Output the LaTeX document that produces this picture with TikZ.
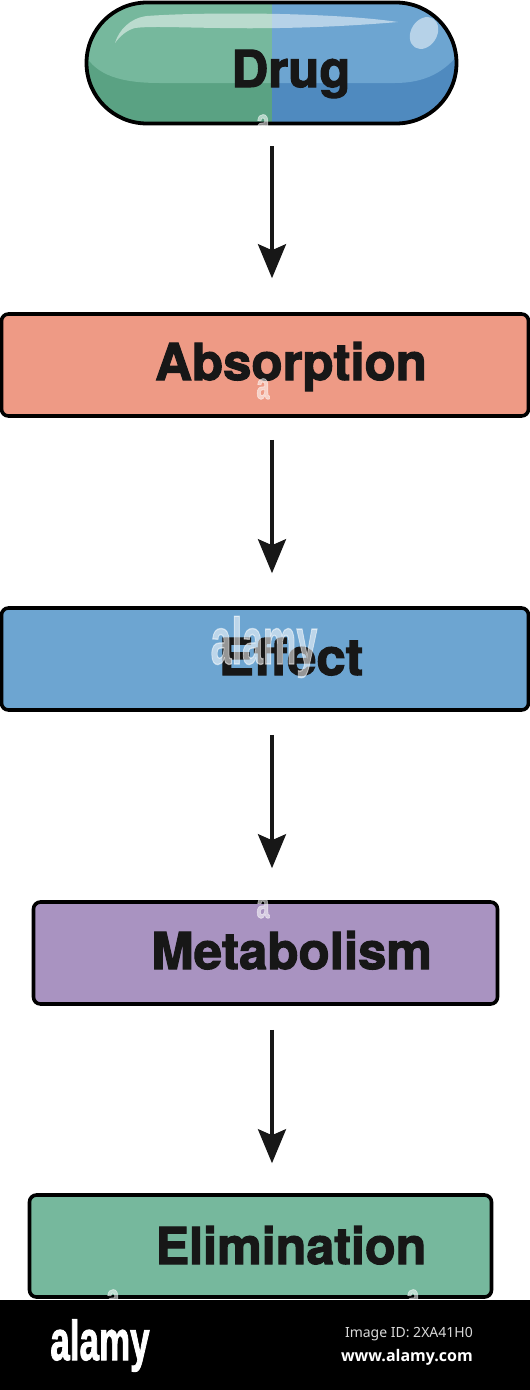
\documentclass[tikz,border=0pt]{standalone}
\usepackage{fontspec}
\setmainfont{TeX Gyre Heros}[BoldFeatures={FakeBold=2.2}]
\newfontfamily\notofont{Noto Sans}
\newfontfamily\sitefont{Open Sans}
\newfontfamily\logofont{Liberation Sans}[BoldFeatures={FakeBold=2}]
\usetikzlibrary{arrows.meta}
\definecolor{ink}{HTML}{171717}
\definecolor{boxred}{HTML}{EE9A85}
\definecolor{boxblue}{HTML}{6DA5D1}
\definecolor{boxpurple}{HTML}{A993C1}
\definecolor{boxgreen}{HTML}{76B89D}
\definecolor{pillgreendark}{HTML}{5AA283}
\definecolor{pillbluedark}{HTML}{4F8ABF}
\tikzset{
  stagebox/.style={draw=black,line width=3.6pt,rounded corners=7pt,inner sep=0pt,minimum height=102pt},
  stagetext/.style={anchor=base,inner sep=0pt,text=ink,font=\fontsize{51}{51}\selectfont\bfseries},
  flow/.style={draw=ink,line width=3.4pt,-{Stealth[length=34pt,width=28pt,inset=6pt]}},
  wmark/.style={anchor=base,inner sep=0pt,text=white,opacity=.55,font=\logofont\bfseries\fontsize{38}{38}\selectfont,xscale=.62},
  wmarkbig/.style={anchor=base,inner sep=0pt,text=white,opacity=.55,font=\logofont\bfseries\fontsize{66}{66}\selectfont,xscale=.57},
}
\begin{document}
\begin{tikzpicture}[x=1pt,y=-1pt]
\useasboundingbox (0,0) rectangle (530,1390);
\fill[white] (0,0) rectangle (530,1390);

% pill
\coordinate (pillnw) at (86.5,2.5);
\coordinate (pillse) at (456.5,123.5);
\begin{scope}
  \clip[rounded corners=60.5pt] (pillnw) rectangle (pillse);
  \fill[pillgreendark] (85,0) rectangle (272,126);
  \fill[pillbluedark] (272,0) rectangle (460,126);
  \fill[boxgreen] (80,0) -- (272,0) -- (272,83) -- (160,83) .. controls (120,83) and (97,75) .. (85,55) -- cycle;
  \fill[boxblue] (272,0) -- (460,0) -- (460,52) .. controls (445,72) and (425,83) .. (395,83) -- (272,83) -- cycle;
  \fill[white,opacity=.5] (115,43) .. controls (119,30) and (130,18) .. (147,16)
    .. controls (200,12) and (330,12) .. (398,22)
    .. controls (340,27) and (280,29) .. (220,28)
    .. controls (180,27.5) and (150,26) .. (135,28) .. controls (127,30) and (120,36) .. (115,43) -- cycle;
  \fill[white,opacity=.5,rotate around={-32:(424,33)}] (424,33) ellipse (13pt and 17pt);
\end{scope}
\node[draw=black,line width=3.8pt,rounded corners=60.5pt,inner sep=0pt,minimum width=370pt,minimum height=121pt] (pill) at (271.5,63) {};
\node[stagetext] (drug) at (291,87) {Drug};

% stages
\node[stagebox,fill=boxred,minimum width=527pt] (absorption) at (265,365) {};
\node[stagetext] (absorptiontext) at (291,380) {Absorption};
\node[stagebox,fill=boxblue,minimum width=527pt] (effect) at (265,659) {};
\node[stagetext,xscale=1.03] (effecttext) at (291,675) {Effect};
\node[stagebox,fill=boxpurple,minimum width=464pt] (metabolism) at (265.5,953) {};
\node[stagetext] (metabolismtext) at (291.5,969) {Metabolism};
\node[stagebox,fill=boxgreen,minimum width=462pt] (elimination) at (260.5,1246) {};
\node[stagetext,xscale=.985] (eliminationtext) at (291,1264) {Elimination};

% connectors
\coordinate (spine) at (272,0);
\coordinate (a1s) at (spine |- pill.south);
\coordinate (a2s) at (spine |- absorption.south);
\coordinate (a3s) at (spine |- effect.south);
\coordinate (a4s) at (spine |- metabolism.south);
\draw[flow,shorten <=21pt,shorten >=34pt] (a1s) -- (spine |- absorption.north);
\draw[flow,shorten <=22pt,shorten >=33pt] (a2s) -- (spine |- effect.north);
\draw[flow,shorten <=23pt,shorten >=32pt] (a3s) -- (spine |- metabolism.north);
\draw[flow,shorten <=24pt,shorten >=30pt] (a4s) -- (spine |- elimination.north);

% watermark
\node[wmarkbig] (wm) at (264,664) {alamy};
\node[wmark] (wma) at (263,399) {a};
\node[wmark] (wmb) at (263,135) {a};
\node[wmark] (wmc) at (263,918) {a};
\node[wmark] (wmd) at (113,1310) {a};
\node[wmark] (wme) at (413,1310) {a};

% footer
\fill[black] (0,1300) rectangle (530,1390);
\node[anchor=base,inner sep=0pt,text=white,font=\logofont\bfseries\fontsize{56}{56}\selectfont,xscale=.625] (logo) at (100,1360) {alamy};
\node[anchor=base east,inner sep=0pt,text=white!85!black,font=\notofont\fontsize{14}{14}\selectfont] (imageid) at (473,1337) {Image ID: 2XA41H0};
\node[anchor=base east,inner sep=0pt,text=white,font=\sitefont\bfseries\fontsize{16}{16}\selectfont] (site) at (473,1361) {www.alamy.com};
\end{tikzpicture}
\end{document}
